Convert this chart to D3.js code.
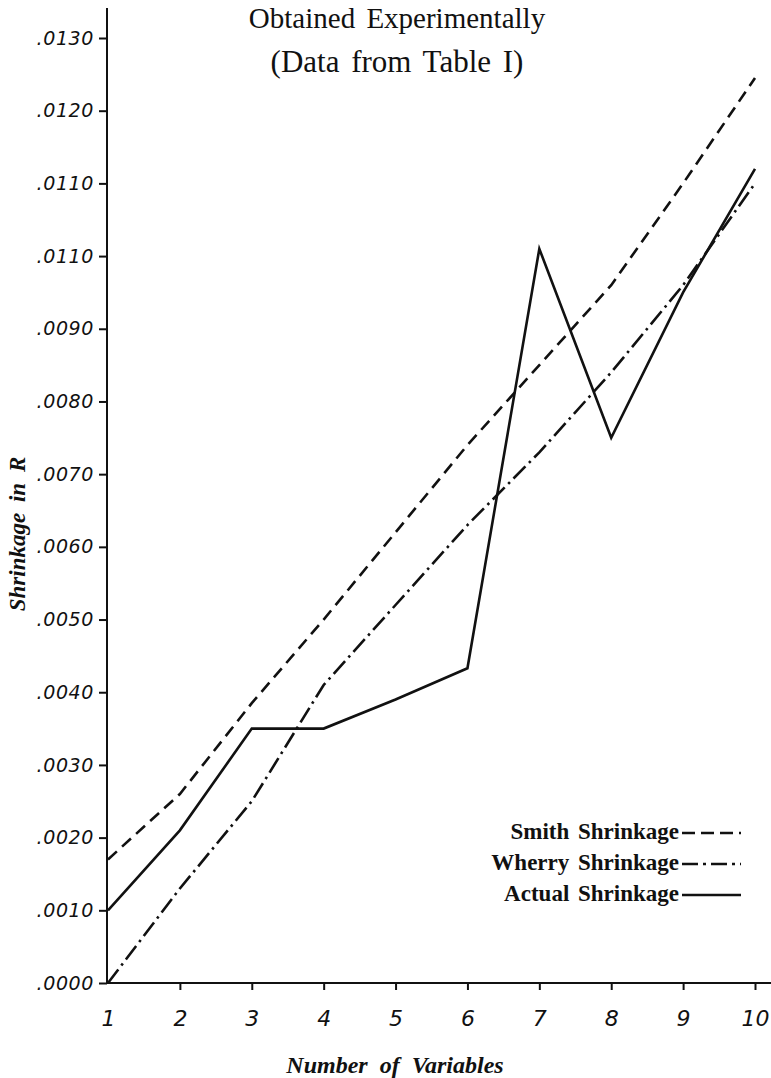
<!DOCTYPE html>
<html>
<head>
<meta charset="utf-8">
<script src="https://cdn.jsdelivr.net/npm/d3@7"></script>
<style>
  html, body { margin: 0; padding: 0; background: #fff; }
  svg { display: block; }
</style>
</head>
<body>
<svg id="chart" width="771" height="1078"></svg>
<script>
// ---- data ----
const variables = [1, 2, 3, 4, 5, 6, 7, 8, 9, 10];
const smithShrinkage  = [0.0017, 0.0026, 0.00385, 0.0050, 0.0062, 0.0074, 0.0085, 0.0096, 0.0110, 0.01245];
const wherryShrinkage = [0.0000, 0.0013, 0.0025, 0.0041, 0.0052, 0.0063, 0.0073, 0.0084, 0.0096, 0.0110];
const actualShrinkage = [0.0010, 0.0021, 0.0035, 0.0035, 0.0039, 0.00433, 0.0101, 0.0075, 0.0095, 0.0112];
const yTickValues = [0, 0.001, 0.002, 0.003, 0.004, 0.005, 0.006, 0.007, 0.008, 0.009, 0.010, 0.011, 0.012, 0.013];
const yTickLabels = [".0000", ".0010", ".0020", ".0030", ".0040", ".0050", ".0060", ".0070", ".0080", ".0090", ".0110", ".0110", ".0120", ".0130"];
const xTickLabels = ["1", "2", "3", "4", "5", "6", "7", "8", "9", "10"];
const titleLines = ["Obtained Experimentally", "(Data from Table I)"];
const legendLabels = ["Smith Shrinkage", "Wherry Shrinkage", "Actual Shrinkage"];
const xTitle = "Number of Variables";
const yTitle = "Shrinkage in R";

// ---- layout ----
const svg = d3.select("#chart");
const x = d3.scaleLinear().domain([1, 10]).range([108, 755]);
const y = d3.scaleLinear().domain([0, 0.013]).range([983, 38]);
const ink = "#111";

const series = [
  { name: legendLabels[0], values: smithShrinkage, dash: "12,7" },
  { name: legendLabels[1], values: wherryShrinkage, dash: "17,5,2.5,5" },
  { name: legendLabels[2], values: actualShrinkage, dash: null }
];

// titles
svg.append("text").attr("x", 397).attr("y", 28).attr("text-anchor", "middle")
  .attr("font-family", "Liberation Serif, serif").attr("font-size", 29)
  .attr("word-spacing", 4).attr("fill", ink)
  .text(titleLines[0]);
svg.append("text").attr("x", 397).attr("y", 72).attr("text-anchor", "middle")
  .attr("font-family", "Liberation Serif, serif").attr("font-size", 31)
  .attr("word-spacing", 4).attr("fill", ink)
  .text(titleLines[1]);

// y axis
const yAxis = d3.axisLeft(y).tickValues(yTickValues).tickSize(8).tickPadding(5)
  .tickFormat((d, i) => yTickLabels[i]);
const gy = svg.append("g").attr("transform", "translate(107,0)").call(yAxis);
gy.select(".domain").remove();
gy.selectAll(".tick line").attr("stroke", ink).attr("stroke-width", 2);
gy.selectAll(".tick text").attr("font-family", "DejaVu Sans, sans-serif")
  .attr("font-style", "italic").attr("font-size", 19).attr("fill", ink)
  .attr("letter-spacing", 0.6);
svg.append("line").attr("x1", 107).attr("x2", 107).attr("y1", 8).attr("y2", 984)
  .attr("stroke", ink).attr("stroke-width", 2);

// x axis
const xAxis = d3.axisBottom(x).tickValues(variables).tickSize(7).tickPadding(20)
  .tickFormat((d, i) => xTickLabels[i]);
const gx = svg.append("g").attr("transform", "translate(0,983)").call(xAxis);
gx.select(".domain").remove();
gx.selectAll(".tick line").attr("stroke", ink).attr("stroke-width", 2);
gx.selectAll(".tick").filter(d => d === 1).select("line").remove();
gx.selectAll(".tick text").attr("font-family", "DejaVu Sans, sans-serif")
  .attr("font-style", "italic").attr("font-size", 22).attr("fill", ink);
svg.append("line").attr("x1", 106).attr("x2", 771).attr("y1", 983).attr("y2", 983)
  .attr("stroke", ink).attr("stroke-width", 2);

// axis titles
svg.append("text").attr("x", 395).attr("y", 1073).attr("text-anchor", "middle")
  .attr("font-family", "Liberation Serif, serif").attr("font-style", "italic")
  .attr("font-weight", "bold").attr("font-size", 24).attr("word-spacing", 6)
  .attr("fill", ink).text(xTitle);
svg.append("text").attr("transform", "translate(25,534) rotate(-90)").attr("text-anchor", "middle")
  .attr("font-family", "Liberation Serif, serif").attr("font-style", "italic")
  .attr("font-weight", "bold").attr("font-size", 23).attr("word-spacing", 5)
  .attr("fill", ink).text(yTitle);

// lines
const line = d3.line().x((d, i) => x(variables[i])).y(d => y(d));
series.forEach(s => {
  svg.append("path").datum(s.values).attr("d", line)
    .attr("fill", "none").attr("stroke", ink).attr("stroke-width", 2.6)
    .attr("stroke-linejoin", "miter")
    .attr("stroke-dasharray", s.dash);
});

// legend
const lg = svg.append("g");
series.forEach((s, i) => {
  const by = 839 + i * 31;
  lg.append("text").attr("x", 679).attr("y", by).attr("text-anchor", "end")
    .attr("font-family", "Liberation Serif, serif").attr("font-weight", "bold")
    .attr("font-size", 23).attr("word-spacing", 3)
    .attr("fill", ink).text(s.name);
  lg.append("line").attr("x1", 682).attr("x2", 741).attr("y1", by - 6).attr("y2", by - 6)
    .attr("stroke", ink).attr("stroke-width", 2.6)
    .attr("stroke-dasharray", s.dash ? (i === 0 ? "13,6" : "16,5,3,5") : null);
});
</script>
</body>
</html>
